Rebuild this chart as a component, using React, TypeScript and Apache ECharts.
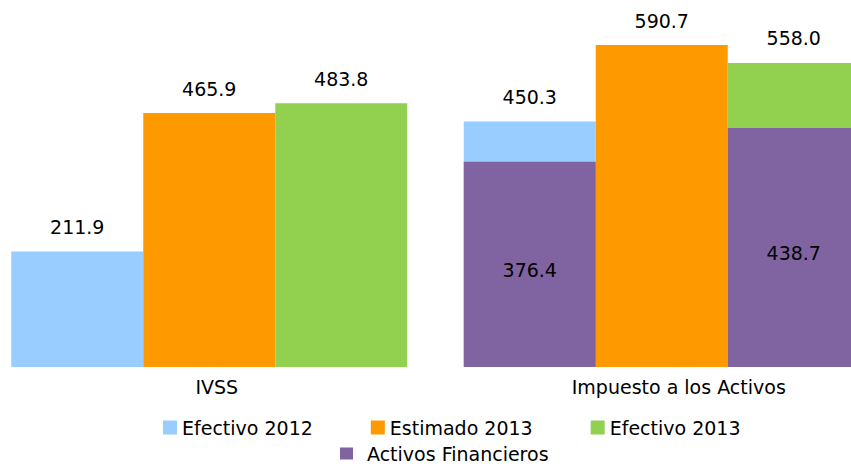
import React, { useEffect, useRef } from "react";
import * as echarts from "echarts";

const categories = ["IVSS", "Impuesto a los Activos"];
const efectivo2012 = [211.9, 450.3];
const estimado2013 = [465.9, 590.7];
const efectivo2013 = [483.8, 558.0];
const activosBajo2012: (number | string)[] = ["-", 376.4];
const activosBajo2013: (number | string)[] = ["-", 438.7];

const FONT = "DejaVu Sans";
const FS = 19;

export default function App() {
  const ref = useRef<HTMLDivElement>(null);
  useEffect(() => {
    if (!ref.current) return;
    const chart = echarts.init(ref.current, null, { renderer: "svg" });
    const topLabel = {
      show: true,
      position: "top",
      distance: 15,
      color: "#000",
      fontFamily: FONT,
      fontSize: FS,
      formatter: (p: any) => Number(p.value).toFixed(1),
    };
    const insideLabel = {
      show: true,
      position: "inside",
      offset: [0, 6],
      color: "#000",
      fontFamily: FONT,
      fontSize: FS,
      formatter: (p: any) => Number(p.value).toFixed(1),
    };
    chart.setOption({
      animation: false,
      backgroundColor: "#fff",
      textStyle: { fontFamily: FONT },
      grid: {
        left: -17,
        width: 905,
        top: 40,
        bottom: 99,
        containLabel: false,
        outerBoundsMode: "none",
      },
      legend: [
        {
          data: ["Efectivo 2012", "Estimado 2013", "Efectivo 2013"],
          left: 158,
          top: 413,
          icon: "rect",
          itemWidth: 14,
          itemHeight: 14,
          itemGap: 58,
          textStyle: { fontFamily: FONT, fontSize: FS, color: "#000" },
        },
        {
          data: ["Activos Financieros"],
          left: 335,
          top: 439,
          icon: "rect",
          itemWidth: 13,
          itemHeight: 12,
          textStyle: { fontFamily: FONT, fontSize: FS, color: "#000", padding: [0, 0, 0, 9] },
        },
      ],
      xAxis: [
        {
          type: "category",
          data: [
            { value: categories[0], textStyle: { padding: [0, 0, 0, 15] } },
            { value: categories[1], textStyle: { padding: [0, 0, 0, 34] } },
          ],
          axisLine: { show: false },
          axisTick: { show: false },
          axisLabel: { color: "#000", fontFamily: FONT, fontSize: FS, margin: 10 },
        },
        {
          type: "category",
          data: categories,
          show: false,
        },
      ],
      yAxis: {
        type: "value",
        min: 0,
        max: 600,
        show: false,
        splitLine: { show: false },
      },
      series: [
        {
          name: "Efectivo 2012",
          type: "bar",
          data: efectivo2012,
          barWidth: 132,
          barGap: "0%",
          itemStyle: { color: "#99CCFF" },
          label: topLabel,
        },
        {
          name: "Estimado 2013",
          type: "bar",
          data: estimado2013,
          barWidth: 132,
          barGap: "0%",
          itemStyle: { color: "#FF9900" },
          label: topLabel,
        },
        {
          name: "Efectivo 2013",
          type: "bar",
          data: efectivo2013,
          barWidth: 132,
          barGap: "0%",
          itemStyle: { color: "#92D050" },
          label: topLabel,
        },
        {
          name: "Activos Financieros",
          type: "bar",
          xAxisIndex: 1,
          data: activosBajo2012,
          barWidth: 132,
          barGap: "0%",
          itemStyle: { color: "#8064A2" },
          label: insideLabel,
        },
        {
          type: "bar",
          xAxisIndex: 1,
          data: ["-", "-"],
          barWidth: 132,
          barGap: "0%",
          itemStyle: { color: "transparent" },
          silent: true,
        },
        {
          name: "Activos Financieros",
          type: "bar",
          xAxisIndex: 1,
          data: activosBajo2013,
          barWidth: 132,
          barGap: "0%",
          itemStyle: { color: "#8064A2" },
          label: insideLabel,
        },
      ],
    });
    return () => chart.dispose();
  }, []);
  return (
    <div
      ref={ref}
      style={{ position: "fixed", left: 0, top: 0, width: 851, height: 466 }}
    />
  );
}
